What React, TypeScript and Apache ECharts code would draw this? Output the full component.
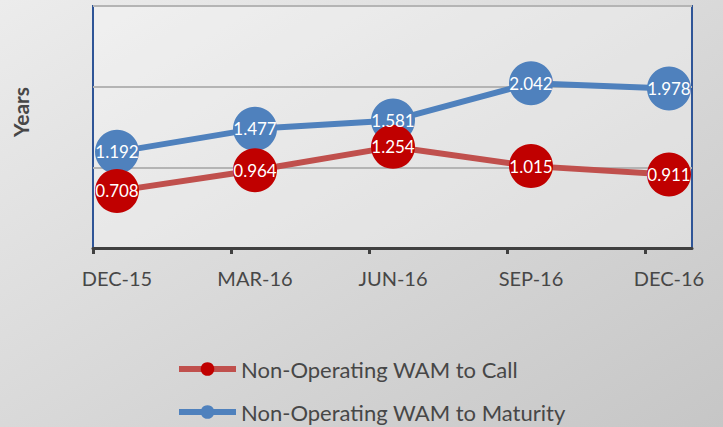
import React, { useEffect, useRef } from "react";
import * as echarts from "echarts";

const categories = ["DEC-15", "MAR-16", "JUN-16", "SEP-16", "DEC-16"];
const wamToCall = [0.708, 0.964, 1.254, 1.015, 0.911];
const wamToMaturity = [1.192, 1.477, 1.581, 2.042, 1.978];
const callName = "Non-Operating WAM to Call";
const maturityName = "Non-Operating WAM to Maturity";
const yMin = 0;
const yMax = 3;
const yInterval = 1;

const FONT = "Lato, 'Open Sans', sans-serif";

export default function App() {
  const ref = useRef<HTMLDivElement>(null);
  useEffect(() => {
    if (!ref.current) return;
    const chart = echarts.init(ref.current, undefined, { renderer: "svg" });
    const frameLeft = 93;
    const frameWidth = 599;
    const step = 138;
    const offset = 24;
    const top = 6;
    const height = 242;
    const labelStyle = {
      show: true,
      position: "inside",
      color: "#ffffff",
      fontFamily: FONT,
      fontSize: 17,
    };
    chart.setOption({
      animation: false,
      grid: [
        {
          left: frameLeft,
          top,
          width: frameWidth,
          height,
          show: true,
          borderColor: "#2f5597",
          borderWidth: 2,
          backgroundColor: "rgba(255,255,255,0.3)",
        },
        {
          left: frameLeft + offset,
          top,
          width: step * (categories.length - 1),
          height,
        },
      ],
      xAxis: [
        {
          gridIndex: 0,
          type: "value",
          min: 0,
          max: frameWidth,
          interval: step,
          axisLine: { show: true, lineStyle: { color: "#404040", width: 3 } },
          axisTick: {
            show: true,
            length: 6,
            lineStyle: { color: "#404040", width: 3 },
            customValues: categories.map((_, i) => i * step),
          },
          axisLabel: { show: false },
          splitLine: { show: false },
        },
        {
          gridIndex: 1,
          type: "category",
          boundaryGap: false,
          data: categories,
          axisLine: { show: false },
          axisTick: { show: false },
          axisLabel: {
            color: "#474747",
            fontFamily: FONT,
            fontSize: 20,
            margin: 20,
          },
        },
      ],
      yAxis: [
        {
          gridIndex: 0,
          type: "value",
          min: yMin,
          max: yMax,
          interval: yInterval,
          axisLine: { show: false },
          axisTick: { show: false },
          axisLabel: { show: false },
          splitLine: { show: true, lineStyle: { color: "#b4b4b4", width: 2 } },
        },
        {
          gridIndex: 1,
          type: "value",
          min: yMin,
          max: yMax,
          interval: yInterval,
          axisLine: { show: false },
          axisTick: { show: false },
          axisLabel: { show: false },
          splitLine: { show: false },
        },
      ],
      legend: {
        data: [callName, maturityName],
        orient: "vertical",
        left: 176,
        top: 358,
        itemWidth: 57,
        itemHeight: 17,
        itemGap: 21,
        padding: 0,
        lineStyle: { width: 6 },
        textStyle: { color: "#474747", fontFamily: FONT, fontSize: 22 },
      },
      graphic: [
        {
          type: "text",
          x: 20,
          y: 112,
          rotation: Math.PI / 2,
          style: {
            text: "Years",
            fill: "#474747",
            font: `bold 21px ${FONT}`,
            align: "center",
            verticalAlign: "middle",
          },
        },
      ],
      series: [
        {
          name: maturityName,
          type: "line",
          xAxisIndex: 1,
          yAxisIndex: 1,
          data: wamToMaturity,
          symbol: "circle",
          symbolSize: 44,
          lineStyle: { color: "#4f81bd", width: 6 },
          itemStyle: { color: "#4f81bd" },
          label: labelStyle,
        },
        {
          name: callName,
          type: "line",
          xAxisIndex: 1,
          yAxisIndex: 1,
          data: wamToCall,
          symbol: "circle",
          symbolSize: 44,
          lineStyle: { color: "#c0504d", width: 6 },
          itemStyle: { color: "#c00000" },
          label: labelStyle,
        },
      ],
    });
    return () => chart.dispose();
  }, []);
  return (
    <div
      ref={ref}
      style={{
        position: "fixed",
        left: 0,
        top: 0,
        width: 723,
        height: 427,
        background: "linear-gradient(to bottom right, #ececec, #c6c6c6)",
      }}
    />
  );
}
